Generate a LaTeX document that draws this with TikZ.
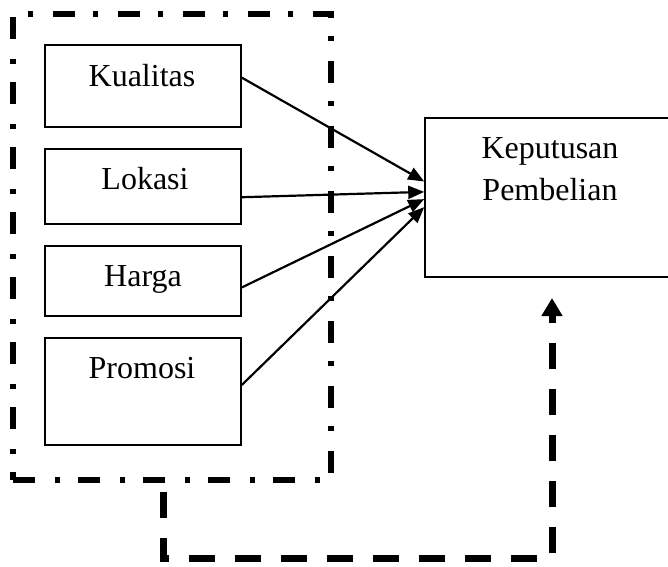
\documentclass[tikz,border=0pt]{standalone}
\usepackage{fontspec}
\setmainfont{Liberation Serif}
\usetikzlibrary{arrows.meta,calc}
\begin{document}
\begin{tikzpicture}[x=1pt,y=-1pt,
  box/.style={draw, line width=1.6pt, rectangle, inner sep=0pt},
  txt/.style={font=\fontsize{32}{36}\selectfont, inner sep=0pt, anchor=base},
  arr/.style={line width=2.2pt, -{Triangle[length=16pt,width=13pt]}},
  grpline/.style={draw, line width=6.5pt, dash pattern=on 22pt off 20pt on 5pt off 18pt, inner sep=0pt},
  fbline/.style={line width=7pt, dash pattern=on 26pt off 20pt, -{Triangle[length=18pt,width=20pt]}}
]
\useasboundingbox (0,0) rectangle (668,566);
\clip (0,0) rectangle (668,566);
% group frame
\node[grpline, minimum width=318pt, minimum height=466pt] (grp) at (172,247) {};
% boxes
\node[box, minimum width=196pt, minimum height=82pt] (k) at (143,86) {};
\node[box, minimum width=196pt, minimum height=75pt] (l) at (143,186.5) {};
\node[box, minimum width=196pt, minimum height=70pt] (h) at (143,281) {};
\node[box, minimum width=196pt, minimum height=107pt] (p) at (143,391.5) {};
\node[box, minimum width=250pt, minimum height=159pt] (kp) at (550,197.5) {};
% texts
\node[txt] (kt) at (142,86) {Kualitas};
\node[txt] (lt) at (145,189) {Lokasi};
\node[txt] (ht) at (143,286) {Harga};
\node[txt] (pt) at (142,378) {Promosi};
\node[txt] (kpt1) at (550,158) {Keputusan};
\node[txt] (kpt2) at (550,200) {Pembelian};
% arrows
\draw[arr] ($(k.north east)!0.40!(k.south east)$) -- ($(kp.north west)!0.40!(kp.south west)$);
\draw[arr] ($(l.north east)!0.64!(l.south east)$) -- ($(kp.north west)!0.465!(kp.south west)$);
\draw[arr] ($(h.north east)!0.59!(h.south east)$) -- ($(kp.north west)!0.51!(kp.south west)$);
\draw[arr] ($(p.north east)!0.44!(p.south east)$) -- ($(kp.north west)!0.56!(kp.south west)$);
% feedback
\coordinate (fb) at (163,492);
\coordinate (fbend) at (552,298);
\draw[fbline] (fb) -- (163,558) -| (fbend);
\end{tikzpicture}
\end{document}
